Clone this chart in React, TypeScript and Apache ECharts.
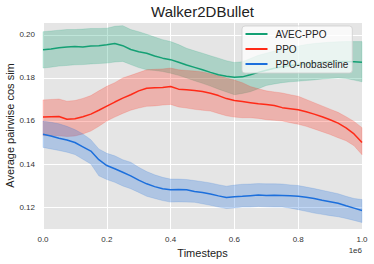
import React, { useEffect, useRef } from "react";
import * as echarts from "echarts";

const xs = [0, 0.025, 0.05, 0.075, 0.1, 0.125, 0.15, 0.175, 0.2, 0.225, 0.25, 0.275, 0.3, 0.325, 0.35, 0.375, 0.4, 0.425, 0.45, 0.475, 0.5, 0.525, 0.55, 0.575, 0.6, 0.625, 0.65, 0.675, 0.7, 0.725, 0.75, 0.775, 0.8, 0.825, 0.85, 0.875, 0.9, 0.925, 0.95, 0.975, 1.0];

const avecMean = [0.1931, 0.1935, 0.194, 0.1944, 0.1946, 0.1944, 0.1948, 0.195, 0.1954, 0.196, 0.195, 0.1932, 0.1922, 0.1915, 0.1902, 0.1892, 0.1885, 0.1873, 0.186, 0.1849, 0.1838, 0.1826, 0.1815, 0.1808, 0.1803, 0.1805, 0.1815, 0.1826, 0.1836, 0.1845, 0.1852, 0.1858, 0.1862, 0.1866, 0.187, 0.1873, 0.1876, 0.1877, 0.1877, 0.1875, 0.1873];
const avecUpper = [0.2015, 0.2018, 0.2022, 0.2025, 0.2025, 0.2027, 0.203, 0.203, 0.2031, 0.204, 0.2043, 0.2025, 0.2015, 0.2003, 0.199, 0.1978, 0.1969, 0.1955, 0.1938, 0.1926, 0.1915, 0.1903, 0.1892, 0.188, 0.1872, 0.1875, 0.189, 0.1905, 0.1915, 0.1925, 0.1932, 0.194, 0.1948, 0.1955, 0.196, 0.1963, 0.1966, 0.1968, 0.1969, 0.1969, 0.1969];
const avecLower = [0.1846, 0.185, 0.1855, 0.1858, 0.1861, 0.1862, 0.1865, 0.1867, 0.1869, 0.1874, 0.1877, 0.1862, 0.1848, 0.1838, 0.1835, 0.183, 0.1822, 0.1812, 0.18, 0.1787, 0.1775, 0.1762, 0.1748, 0.1735, 0.1722, 0.1728, 0.1736, 0.175, 0.1765, 0.1772, 0.1778, 0.1782, 0.1785, 0.1788, 0.1791, 0.1795, 0.1798, 0.18, 0.1798, 0.179, 0.1782];

const ppoMean = [0.1618, 0.162, 0.1621, 0.1608, 0.161, 0.162, 0.1632, 0.165, 0.1669, 0.1688, 0.1706, 0.1722, 0.174, 0.1752, 0.1754, 0.1756, 0.176, 0.1748, 0.1745, 0.1742, 0.1737, 0.1729, 0.1718, 0.1704, 0.1695, 0.169, 0.1685, 0.168, 0.1677, 0.1672, 0.1662, 0.1657, 0.1652, 0.1643, 0.1632, 0.162, 0.1606, 0.159, 0.1568, 0.154, 0.15];
const ppoUpper = [0.1698, 0.17, 0.1702, 0.1692, 0.1695, 0.1705, 0.1718, 0.174, 0.1761, 0.1778, 0.18, 0.1812, 0.1825, 0.1838, 0.184, 0.1842, 0.1846, 0.1838, 0.1835, 0.1832, 0.1828, 0.182, 0.181, 0.18, 0.179, 0.1778, 0.176, 0.175, 0.174, 0.1735, 0.173, 0.1722, 0.1715, 0.17, 0.1685, 0.167, 0.1655, 0.164, 0.162, 0.1598, 0.1569];
const ppoLower = [0.1532, 0.1532, 0.1531, 0.1528, 0.153, 0.154, 0.1553, 0.1575, 0.16, 0.1618, 0.1635, 0.165, 0.166, 0.1668, 0.167, 0.1674, 0.1677, 0.1665, 0.166, 0.1654, 0.165, 0.1646, 0.1635, 0.1624, 0.1618, 0.1615, 0.1615, 0.1612, 0.1606, 0.1603, 0.16, 0.1592, 0.1585, 0.1575, 0.1563, 0.155, 0.1537, 0.1522, 0.1508, 0.1485, 0.1443];

const nbMean = [0.1538, 0.153, 0.152, 0.1512, 0.15, 0.148, 0.146, 0.142, 0.1393, 0.1378, 0.1362, 0.1345, 0.1325, 0.1308, 0.1295, 0.1285, 0.128, 0.1282, 0.128, 0.1272, 0.1268, 0.1261, 0.1252, 0.1244, 0.1248, 0.125, 0.1253, 0.1256, 0.1254, 0.1255, 0.1254, 0.1252, 0.125, 0.1246, 0.124, 0.1232, 0.1225, 0.1218, 0.1206, 0.1195, 0.1184];
const nbUpper = [0.16, 0.1594, 0.1587, 0.1575, 0.156, 0.154, 0.1513, 0.147, 0.145, 0.1438, 0.142, 0.1408, 0.1385, 0.1365, 0.135, 0.1338, 0.133, 0.133, 0.1328, 0.1323, 0.1318, 0.1312, 0.1304, 0.1297, 0.1302, 0.1306, 0.1307, 0.1309, 0.1308, 0.1308, 0.1307, 0.1303, 0.13, 0.1293, 0.1286, 0.1278, 0.127, 0.1262, 0.125, 0.124, 0.1235];
const nbLower = [0.1477, 0.147, 0.1463, 0.1455, 0.1444, 0.1422, 0.14, 0.1345, 0.1328, 0.1315, 0.1298, 0.1285, 0.1268, 0.125, 0.124, 0.123, 0.1223, 0.1224, 0.1223, 0.1222, 0.1215, 0.1208, 0.12, 0.1193, 0.1196, 0.12, 0.12, 0.1203, 0.1201, 0.12, 0.12, 0.1195, 0.1188, 0.118, 0.1172, 0.1166, 0.116, 0.1155, 0.1147, 0.1138, 0.1128];

const seriesNames = ["AVEC-PPO", "PPO", "PPO-nobaseline"];
const xTickLabels = ["0.0", "0.2", "0.4", "0.6", "0.8", "1.0"];
const yAxisTitle = "Average pairwise cos sim";

const FONT = "Liberation Sans, Arial, Helvetica, sans-serif";

const colors = ["#14a074", "#ff2a17", "#1c6fdc"];
const fills = ["rgba(20,160,116,0.27)", "rgba(255,42,23,0.27)", "rgba(28,111,220,0.27)"];

function bandSeries(idx: number, mean: number[], upper: number[], lower: number[]) {
  return [
    {
      type: "custom",
      name: "_band" + idx,
      silent: true,
      z: 1,
      data: xs.map((x, i) => [x, lower[i], upper[i]]),
      encode: { x: 0, y: [1, 2] },
      renderItem: (params: any, api: any) => {
        if (params.dataIndex !== 0) return null;
        const pts: number[][] = [];
        for (let i = 0; i < xs.length; i++) pts.push(api.coord([xs[i], upper[i]]));
        for (let i = xs.length - 1; i >= 0; i--) pts.push(api.coord([xs[i], lower[i]]));
        return {
          type: "polygon",
          shape: { points: pts },
          style: { fill: fills[idx], stroke: fills[idx], lineWidth: 0.6 },
        };
      },
    },
    {
      type: "line",
      name: seriesNames[idx],
      data: xs.map((x, i) => [x, mean[i]]),
      symbol: "none",
      itemStyle: { color: colors[idx] },
      lineStyle: { color: colors[idx], width: 1.5 },
      z: 3,
    },
  ];
}

export default function App() {
  const ref = useRef<HTMLDivElement>(null);
  useEffect(() => {
    if (!ref.current) return;
    const chart = echarts.init(ref.current, undefined, { renderer: "svg" });
    chart.setOption({
      animation: false,
      title: {
        text: "Walker2DBullet",
        left: 202.5,
        textAlign: "center",
        top: 4,
        padding: 0,
        textStyle: { fontFamily: FONT, fontSize: 15, fontWeight: "normal", color: "#222" },
      },
      grid: {
        left: 43,
        right: 12,
        top: 22,
        bottom: 35,
        show: true,
        backgroundColor: "#e5e5e5",
        borderWidth: 0,
        outerBoundsMode: "none",
        containLabel: false,
      },
      legend: {
        data: seriesNames,
        orient: "vertical",
        left: 242,
        top: 26,
        padding: [2, 4, 3, 3.5],
        itemGap: 3,
        itemWidth: 22,
        itemHeight: 2,
        icon: "rect",
        selectedMode: false,
        backgroundColor: "rgba(255,255,255,0.75)",
        borderColor: "#cfcfcf",
        borderWidth: 0.8,
        borderRadius: 3,
        textStyle: { fontFamily: FONT, fontSize: 10, color: "#222", lineHeight: 12, padding: [0, 0, 0, 3] },
      },
      xAxis: {
        type: "value",
        min: 0,
        max: 1,
        interval: 0.2,
        name: "Timesteps",
        nameLocation: "middle",
        nameGap: 17,
        nameTextStyle: { fontFamily: FONT, fontSize: 11, color: "#222" },
        axisLine: { show: false },
        axisTick: { show: false },
        axisLabel: {
          margin: 6,
          fontFamily: FONT,
          fontSize: 8,
          color: "#333",
          formatter: (v: number) => xTickLabels[Math.round(v / 0.2)] ?? "",
        },
        splitLine: { show: true, lineStyle: { color: "#ffffff", width: 1 } },
      },
      yAxis: {
        type: "value",
        min: 0.1098,
        max: 0.206,
        splitNumber: 5,
        axisLine: { show: false },
        axisTick: { show: false },
        axisLabel: {
          margin: 8,
          fontFamily: FONT,
          fontSize: 8,
          color: "#333",
          showMinLabel: false,
          showMaxLabel: false,
          formatter: (v: number) => v.toFixed(2),
        },
        splitLine: { show: true, lineStyle: { color: "#ffffff", width: 1 } },
      },
      graphic: [
        {
          type: "text",
          right: 12,
          top: 246,
          style: { text: "1e6", fontFamily: FONT, fontSize: 8, fill: "#333" },
        },
        {
          type: "text",
          x: 10,
          y: 125.5,
          rotation: Math.PI / 2,
          style: {
            text: yAxisTitle,
            fontFamily: FONT,
            fontSize: 11,
            fill: "#222",
            align: "center",
            verticalAlign: "middle",
          },
        },
      ],
      series: [
        ...bandSeries(0, avecMean, avecUpper, avecLower),
        ...bandSeries(1, ppoMean, ppoUpper, ppoLower),
        ...bandSeries(2, nbMean, nbUpper, nbLower),
      ],
    });
    return () => chart.dispose();
  }, []);
  return (
    <div
      ref={ref}
      style={{ position: "absolute", left: 0, top: 0, width: 374, height: 264 }}
    />
  );
}
